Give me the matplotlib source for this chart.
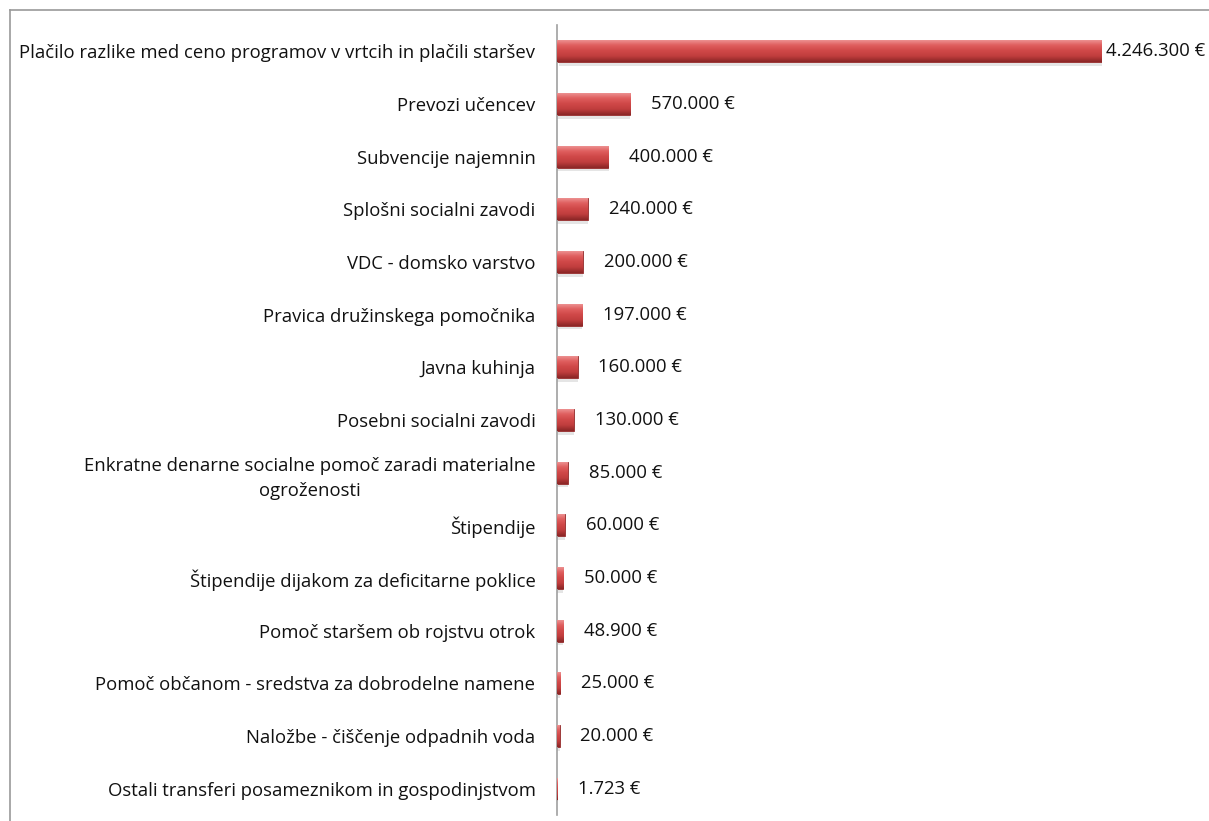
import numpy as np
import matplotlib
matplotlib.use("Agg")
import matplotlib.pyplot as plt
from matplotlib.colors import LinearSegmentedColormap
from matplotlib.lines import Line2D

plt.rcParams["font.family"] = ["Open Sans", "DejaVu Sans"]

# categories top -> bottom
categories = [
    "Plačilo razlike med ceno programov v vrtcih in plačili staršev",
    "Prevozi učencev",
    "Subvencije najemnin",
    "Splošni socialni zavodi",
    "VDC - domsko varstvo",
    "Pravica družinskega pomočnika",
    "Javna kuhinja",
    "Posebni socialni zavodi",
    "Enkratne denarne socialne pomoč zaradi materialne\nogroženosti",
    "Štipendije",
    "Štipendije dijakom za deficitarne poklice",
    "Pomoč staršem ob rojstvu otrok",
    "Pomoč občanom - sredstva za dobrodelne namene",
    "Naložbe - čiščenje odpadnih voda",
    "Ostali transferi posameznikom in gospodinjstvom",
]
values = [4246300, 570000, 400000, 240000, 200000, 197000, 160000, 130000,
          85000, 60000, 50000, 48900, 25000, 20000, 1723]


def euro(v):
    return f"{v:,.0f}".replace(",", ".") + " €"


W, H = 1209, 821
FS = 13.3
fig = plt.figure(figsize=(W / 100, H / 100), dpi=100)
ax = fig.add_axes([557 / W, 1 - 815 / H, (1102 - 557) / W, (815 - 25) / H])

y = np.arange(len(categories))
bars = ax.barh(y, values, height=0.42, color="#c94444", edgecolor="#922b2b",
               linewidth=0.6, zorder=2)

# pillow-like vertical gradient inside each bar
cmap = LinearSegmentedColormap.from_list(
    "pillow", ["#ef9a9a", "#e06060", "#d04848", "#c03d3d", "#8a2626"])
grad = np.linspace(0, 1, 64).reshape(-1, 1)
for b in bars:
    x0, y0, w, h = b.get_x(), b.get_y(), b.get_width(), b.get_height()
    im = ax.imshow(grad, cmap=cmap, aspect="auto", extent=[x0, x0 + w, y0 + h, y0],
                   zorder=3, interpolation="bicubic")
    im.set_clip_path(b)
    # soft shadow below the bar
    ax.barh(b.get_y() + h / 2 + 0.07, w, height=h, left=x0 + w * 0.004,
            color="#b5b5b5", alpha=0.35, zorder=1, linewidth=0)

for yi, v in zip(y, values):
    off = 3 if v == max(values) else 15
    ax.annotate(euro(v), (v, yi), xytext=(off, 0), textcoords="offset points",
                va="center", ha="left", fontsize=FS, color="#111111",
                annotation_clip=False)

ax.set_xlim(0, max(values))
ax.set_ylim(len(categories) - 0.5, -0.5)
ax.set_yticks(y)
ax.set_yticklabels(categories, fontsize=FS, color="#111111",
                   multialignment="center", linespacing=1.55)
ax.tick_params(axis="y", length=0, pad=15.5)
ax.set_xticks([])
for side in ["top", "right", "bottom"]:
    ax.spines[side].set_visible(False)
ax.spines["left"].set_color("#a0a0a0")
ax.spines["left"].set_linewidth(1.2)

# chart frame (only left and top edges are visible in the crop)
fig.add_artist(Line2D([10 / W, 10 / W], [0, 1 - 10 / H], color="#9a9a9a", lw=1.2))
fig.add_artist(Line2D([10 / W, 1], [1 - 10 / H, 1 - 10 / H], color="#9a9a9a", lw=1.2))

fig.savefig("out.png", dpi=100)
